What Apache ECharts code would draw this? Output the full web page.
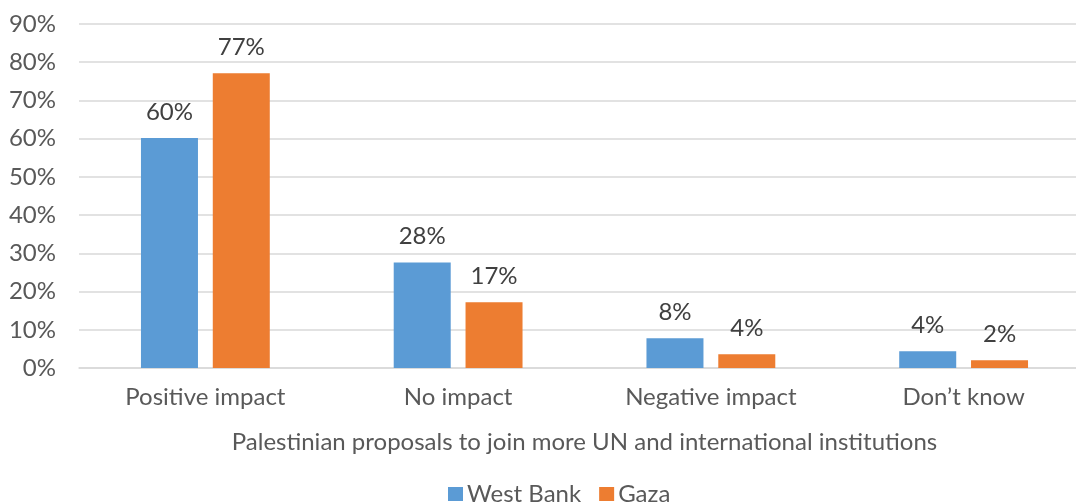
<!DOCTYPE html>
<html><head><meta charset="utf-8">
<script src="https://cdn.jsdelivr.net/npm/echarts@6/dist/echarts.min.js"></script>
<style>html,body{margin:0;padding:0;background:#fff;overflow:hidden}#c{width:1090px;height:503px}</style>
</head><body><div id="c"></div>
<script>
const categories = ['Positive impact', 'No impact', 'Negative impact', 'Don\u2019t know'];
const westBank = [60.2, 27.6, 7.8, 4.4];
const gaza = [77.1, 17.2, 3.6, 2.0];
const seriesNames = ['West Bank', 'Gaza'];
const xTitle = 'Palestinian proposals to join more UN and international institutions';

const font = 'Lato, "Open Sans", sans-serif';
const txt = '#595959';
const chart = echarts.init(document.getElementById('c'));
const lbl = {show: true, position: 'top', distance: 14, color: '#404040', fontSize: 24, fontFamily: font,
  formatter: p => Math.round(p.value) + '%'};
chart.setOption({
  animation: false,
  grid: {left: 79, right: 0, top: 24, bottom: 135, containLabel: false},
  legend: {bottom: -3, left: 448, padding: 0, itemWidth: 15, itemHeight: 14, itemGap: 18,
    icon: 'rect', textStyle: {color: txt, fontSize: 24, fontFamily: font, padding: [0,0,0,-1]},
    data: seriesNames},
  xAxis: {type: 'category', data: categories,
    name: xTitle, nameLocation: 'middle', nameGap: 62,
    nameTextStyle: {color: txt, fontSize: 24, fontFamily: font},
    axisLine: {lineStyle: {color: '#d9d9d9', width: 1.5}}, axisTick: {show: false},
    axisLabel: {color: txt, fontSize: 24, fontFamily: font, margin: 17}},
  yAxis: {type: 'value', min: 0, max: 90, interval: 10,
    axisLabel: {color: txt, fontSize: 24, fontFamily: font, formatter: '{value}%', margin: 23},
    splitLine: {lineStyle: {color: '#d9d9d9', width: 1.5}},
    axisLine: {show: false}, axisTick: {show: false}},
  series: [
    {name: seriesNames[0], type: 'bar', data: westBank, barWidth: 57, barGap: '26%',
      itemStyle: {color: '#5B9BD5'}, label: lbl},
    {name: seriesNames[1], type: 'bar', data: gaza, barWidth: 57,
      itemStyle: {color: '#ED7D31'}, label: lbl}
  ]
});
</script></body></html>
